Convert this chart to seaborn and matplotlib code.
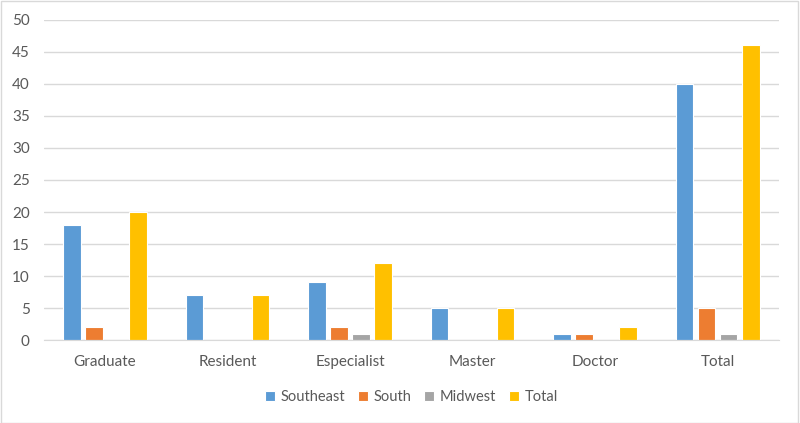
import pandas as pd
import matplotlib.pyplot as plt
import seaborn as sns
from matplotlib.patches import Rectangle

plt.switch_backend('Agg')

categories = ['Graduate', 'Resident', 'Especialist', 'Master', 'Doctor', 'Total']
southeast = [18, 7, 9, 5, 1, 40]
south = [2, 0, 2, 0, 1, 5]
midwest = [0, 0, 1, 0, 0, 1]
total = [20, 7, 12, 5, 2, 46]

series_names = ['Southeast', 'South', 'Midwest', 'Total']
palette = ['#5B9BD5', '#ED7D31', '#A5A5A5', '#FFC000']

rows = []
for name, vals in zip(series_names, [southeast, south, midwest, total]):
    for cat, v in zip(categories, vals):
        rows.append({'category': cat, 'series': name, 'value': v})
df = pd.DataFrame(rows)

sns.set_style('white')
plt.rcParams['font.family'] = ['Lato', 'DejaVu Sans']

fig = plt.figure(figsize=(8, 4.23), dpi=100)
ax = fig.add_axes([0.0546, 0.196, 0.919, 0.757])

sns.barplot(data=df, x='category', y='value', hue='series', order=categories,
            hue_order=series_names, palette=palette, width=0.72, gap=0.2,
            edgecolor='white', linewidth=0.8, saturation=1, ax=ax, zorder=3)

ax.set_ylim(0, 50)
ax.set_yticks(range(0, 51, 5))
ax.yaxis.grid(True, color='#D9D9D9', linewidth=1, zorder=0)
ax.set_axisbelow(True)
for s in ['top', 'right', 'left']:
    ax.spines[s].set_visible(False)
ax.spines['bottom'].set_color('#D9D9D9')
ax.spines['bottom'].set_zorder(4)
ax.set_xlabel('')
ax.set_ylabel('')
ax.tick_params(axis='both', length=0, labelsize=11, labelcolor='#595959')
ax.tick_params(axis='x', pad=11)
ax.tick_params(axis='y', pad=10)

handles, labels = ax.get_legend_handles_labels()
ax.legend(handles, labels, loc='upper center', bbox_to_anchor=(0.5, -0.115),
          ncol=4, frameon=False, fontsize=10.5, handlelength=0.7, handleheight=0.7,
          handletextpad=0.35, columnspacing=0.9, labelcolor='#595959')

fig.patches.append(Rectangle((0.001, 0.001), 0.997, 0.996, transform=fig.transFigure,
                             fill=False, edgecolor='#D9D9D9', linewidth=1))

fig.savefig('out.png', dpi=100)
